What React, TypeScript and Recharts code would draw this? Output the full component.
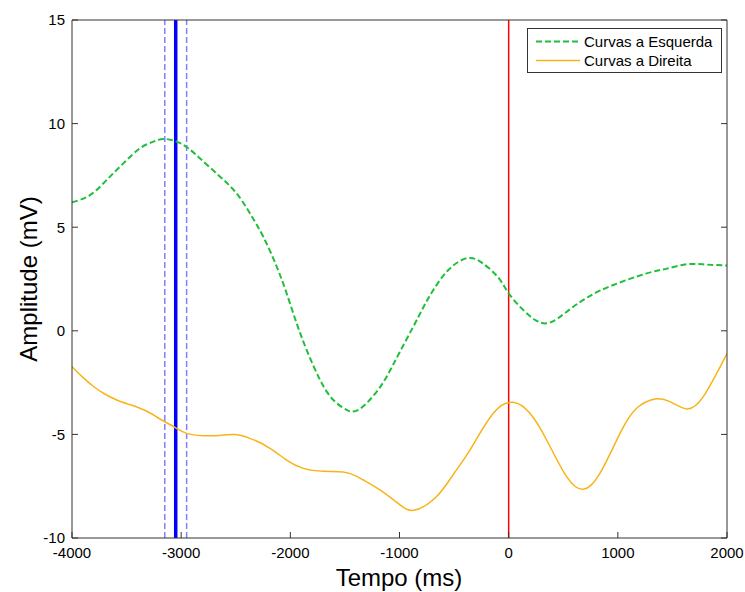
import React from 'react';
import { LineChart, Line, XAxis, YAxis, ReferenceLine, Legend } from 'recharts';

// ---- data ----
const xTicks = [-4000, -3000, -2000, -1000, 0, 1000, 2000];
const yTicks = [-10, -5, 0, 5, 10, 15];

const leftT = [-4000, -3835, -3682, -3530, -3377, -3255, -3164, -3041, -2935, -2827, -2644, -2492, -2370, -2248, -2125, -2034, -1942, -1850, -1728, -1606, -1484, -1430, -1350, -1210, -1100, -1000, -874, -780, -690, -550, -385, -250, -100, 0, 134, 250, 348, 450, 592, 750, 958, 1264, 1450, 1630, 1800, 2000];
const leftV = [6.2, 6.55, 7.28, 8.08, 8.81, 9.13, 9.26, 9.13, 8.81, 8.32, 7.44, 6.63, 5.67, 4.54, 3.1, 1.81, 0.36, -0.93, -2.37, -3.34, -3.82, -3.9, -3.72, -2.95, -2.05, -1.05, 0.2, 1.15, 1.97, 2.95, 3.5, 3.3, 2.6, 1.81, 1.0, 0.5, 0.36, 0.6, 1.16, 1.7, 2.21, 2.77, 3.0, 3.21, 3.2, 3.15];

const rightT = [-4000, -3900, -3800, -3700, -3590, -3480, -3377, -3280, -3190, -3057, -2950, -2800, -2650, -2522, -2370, -2186, -2034, -1881, -1698, -1515, -1400, -1332, -1179, -996, -858, -660, -500, -354, -141, 42, 195, 348, 531, 684, 836, 1020, 1172, 1340, 1477, 1630, 1783, 2000];
const rightV = [-1.73, -2.25, -2.7, -3.05, -3.34, -3.55, -3.74, -3.98, -4.27, -4.66, -4.95, -5.06, -5.05, -5.01, -5.19, -5.67, -6.24, -6.64, -6.78, -6.81, -7.0, -7.2, -7.68, -8.4, -8.65, -8.0, -6.88, -5.75, -3.98, -3.45, -3.98, -5.27, -7.04, -7.65, -6.88, -4.95, -3.74, -3.29, -3.42, -3.77, -3.18, -1.1];

const seriesNames = ['Curvas a Esquerda', 'Curvas a Direita'];
const blueMarker = -3050;
const blueBounds = [-3150, -2950];
const redMarker = 0;

const leftData = leftT.map((t, i) => ({ t, v: leftV[i] }));
const rightData = rightT.map((t, i) => ({ t, v: rightV[i] }));

const FONT = '"Liberation Sans", Arial, Helvetica, sans-serif';
const GREEN = '#1fbf3a';
const YELLOW = '#f8b417';
const AXIS = '#333333';

const EmptyTick = () => <g />;

const YLabel = () => (
  <text x={37} y={279} transform="rotate(-90 37 279)" textAnchor="middle" fontSize={24} fontFamily={FONT} fill="#000">
    Amplitude (mV)
  </text>
);

const XLabel = () => (
  <text x={399} y={586} textAnchor="middle" fontSize={24} fontFamily={FONT} fill="#000">
    Tempo (ms)
  </text>
);

const renderLegend = () => (
  <div
    style={{
      width: 195,
      height: 45,
      boxSizing: 'border-box',
      border: `1px solid ${AXIS}`,
      background: '#fff',
      fontFamily: FONT,
      fontSize: 15,
      color: '#000',
      paddingTop: 3,
    }}
  >
    {[0, 1].map((i) => (
      <div key={i} style={{ height: 19, display: 'flex', alignItems: 'center' }}>
        <svg width={56} height={19} style={{ display: 'block' }}>
          <line
            x1={8}
            x2={52}
            y1={9.5}
            y2={9.5}
            stroke={i === 0 ? GREEN : YELLOW}
            strokeWidth={i === 0 ? 2 : 1.5}
            strokeDasharray={i === 0 ? '6 3' : undefined}
          />
        </svg>
        <span style={{ lineHeight: '19px' }}>{seriesNames[i]}</span>
      </div>
    ))}
  </div>
);

export default function App() {
  return (
    <div style={{ position: 'absolute', left: 0, top: 0, width: 745, height: 592, background: '#fff' }}>
      <LineChart width={745} height={592} margin={{ top: 19, right: 17, bottom: 0, left: 0 }}>
        <XAxis
          dataKey="t"
          type="number"
          domain={[-4000, 2000]}
          ticks={xTicks}
          allowDataOverflow
          height={54}
          tickSize={-6}
          tickMargin={15}
          stroke={AXIS}
          tickLine={{ stroke: AXIS }}
          tick={{ fill: '#000', fontSize: 15, fontFamily: FONT }}
          label={<XLabel />}
        />
        <XAxis
          xAxisId="top"
          orientation="top"
          type="number"
          domain={[-4000, 2000]}
          ticks={xTicks}
          allowDataOverflow
          height={1}
          tickSize={-6}
          stroke={AXIS}
          tickLine={{ stroke: AXIS }}
          tick={EmptyTick}
        />
        <YAxis
          type="number"
          domain={[-10, 15]}
          ticks={yTicks}
          allowDataOverflow
          width={72}
          tickSize={-6}
          tickMargin={13}
          stroke={AXIS}
          tickLine={{ stroke: AXIS }}
          tick={{ fill: '#000', fontSize: 15, fontFamily: FONT }}
          label={<YLabel />}
        />
        <YAxis
          yAxisId="right"
          orientation="right"
          type="number"
          domain={[-10, 15]}
          ticks={yTicks}
          allowDataOverflow
          width={1}
          tickSize={-6}
          stroke={AXIS}
          tickLine={{ stroke: AXIS }}
          tick={EmptyTick}
        />
        <ReferenceLine x={blueBounds[0]} stroke="#8080ff" strokeWidth={1.5} strokeDasharray="6 3" />
        <ReferenceLine x={blueBounds[1]} stroke="#8080ff" strokeWidth={1.5} strokeDasharray="6 3" />
        <ReferenceLine x={blueMarker} stroke="#0000ff" strokeWidth={3.5} />
        <ReferenceLine x={redMarker} stroke="#ff0000" strokeWidth={1.5} />
        <Line
          data={leftData}
          dataKey="v"
          name={seriesNames[0]}
          type="natural"
          stroke={GREEN}
          strokeWidth={2}
          strokeDasharray="6 3"
          dot={false}
          isAnimationActive={false}
        />
        <Line
          data={rightData}
          dataKey="v"
          name={seriesNames[1]}
          type="natural"
          stroke={YELLOW}
          strokeWidth={1.5}
          dot={false}
          isAnimationActive={false}
        />
        <Legend
          layout="vertical"
          align="center"
          verticalAlign="middle"
          content={renderLegend}
          wrapperStyle={{ left: 527, top: 28, width: 195, height: 45 }}
        />
      </LineChart>
    </div>
  );
}
